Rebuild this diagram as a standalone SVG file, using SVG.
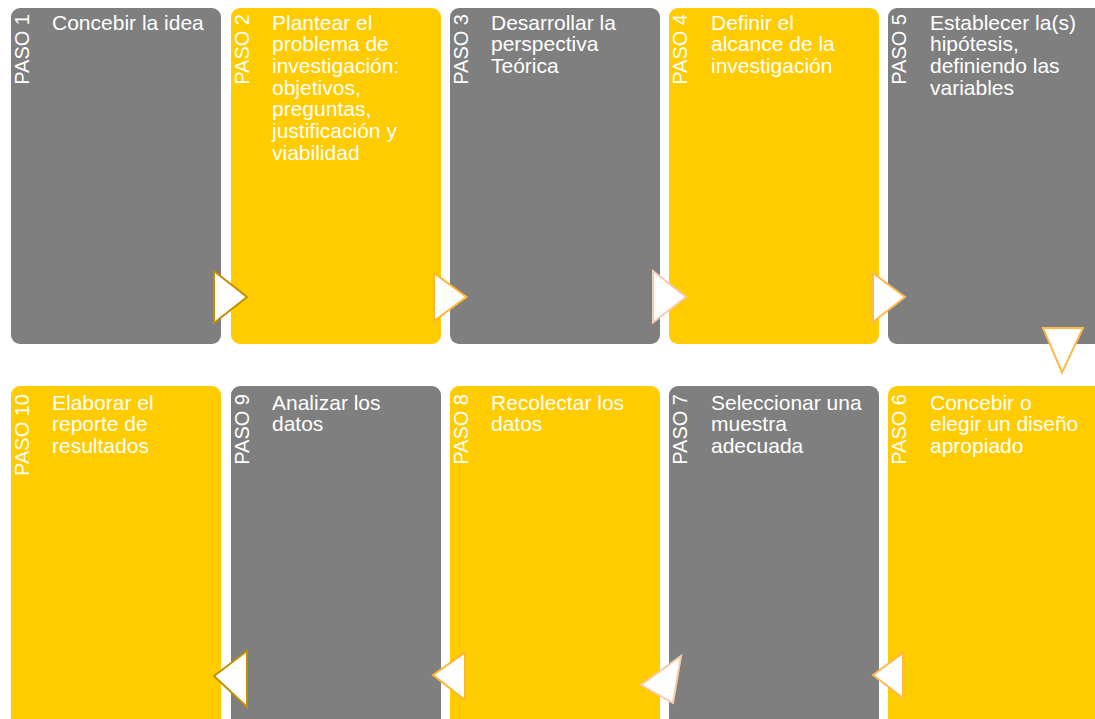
<svg xmlns="http://www.w3.org/2000/svg" width="1095" height="719" viewBox="0 0 1095 719">
<defs>
<style>
.g{fill:#7F7F7F}
.y{fill:#FFCC00}
.lbl{font-family:"Liberation Sans",Arial,sans-serif;font-size:21px;fill:#FFFFFF}
.paso{font-family:"Liberation Sans",Arial,sans-serif;font-size:20px;fill:#FFFFFF}
.arr{fill:#FFFFFF;stroke-width:2;stroke-linejoin:miter}
</style>
</defs>
<rect width="1095" height="719" fill="#FFFFFF"/>
<g id="paso1"><rect class="g" x="11" y="8" width="210" height="336" rx="9"/><text class="paso" transform="translate(29,14) rotate(-90)" text-anchor="end">PASO 1</text><text class="lbl" x="52" y="29.5">Concebir la idea</text></g>
<g id="paso2"><rect class="y" x="231" y="8" width="210" height="336" rx="9"/><text class="paso" transform="translate(249,14) rotate(-90)" text-anchor="end">PASO 2</text><text class="lbl" y="29.5"><tspan x="272">Plantear el</tspan><tspan x="272" dy="21.7">problema de</tspan><tspan x="272" dy="21.7">investigación:</tspan><tspan x="272" dy="21.7">objetivos,</tspan><tspan x="272" dy="21.7">preguntas,</tspan><tspan x="272" dy="21.7">justificación y</tspan><tspan x="272" dy="21.7">viabilidad</tspan></text></g>
<g id="paso3"><rect class="g" x="450" y="8" width="210" height="336" rx="9"/><text class="paso" transform="translate(468,14) rotate(-90)" text-anchor="end">PASO 3</text><text class="lbl" y="29.5"><tspan x="491">Desarrollar la</tspan><tspan x="491" dy="21.7">perspectiva</tspan><tspan x="491" dy="21.7">Teórica</tspan></text></g>
<g id="paso4"><rect class="y" x="669" y="8" width="210" height="336" rx="9"/><text class="paso" transform="translate(687,14) rotate(-90)" text-anchor="end">PASO 4</text><text class="lbl" y="29.5"><tspan x="711">Definir el</tspan><tspan x="711" dy="21.7">alcance de la</tspan><tspan x="711" dy="21.7">investigación</tspan></text></g>
<g id="paso5"><rect class="g" x="888" y="8" width="215" height="336" rx="9"/><text class="paso" transform="translate(906,14) rotate(-90)" text-anchor="end">PASO 5</text><text class="lbl" y="29.5"><tspan x="930">Establecer la(s)</tspan><tspan x="930" dy="21.7">hipótesis,</tspan><tspan x="930" dy="21.7">definiendo las</tspan><tspan x="930" dy="21.7">variables</tspan></text></g>
<g id="paso6"><rect class="y" x="888" y="386" width="215" height="345" rx="9"/><text class="paso" transform="translate(906,394) rotate(-90)" text-anchor="end">PASO 6</text><text class="lbl" y="409.5"><tspan x="930">Concebir o</tspan><tspan x="930" dy="21.7">elegir un diseño</tspan><tspan x="930" dy="21.7">apropiado</tspan></text></g>
<g id="paso7"><rect class="g" x="669" y="386" width="210" height="345" rx="9"/><text class="paso" transform="translate(687,394) rotate(-90)" text-anchor="end">PASO 7</text><text class="lbl" y="409.5"><tspan x="711">Seleccionar una</tspan><tspan x="711" dy="21.7">muestra</tspan><tspan x="711" dy="21.7">adecuada</tspan></text></g>
<g id="paso8"><rect class="y" x="450" y="386" width="210" height="345" rx="9"/><text class="paso" transform="translate(468,394) rotate(-90)" text-anchor="end">PASO 8</text><text class="lbl" y="409.5"><tspan x="491">Recolectar los</tspan><tspan x="491" dy="21.7">datos</tspan></text></g>
<g id="paso9"><rect class="g" x="231" y="386" width="210" height="345" rx="9"/><text class="paso" transform="translate(249,394) rotate(-90)" text-anchor="end">PASO 9</text><text class="lbl" y="409.5"><tspan x="272">Analizar  los</tspan><tspan x="272" dy="21.7">datos</tspan></text></g>
<g id="paso10"><rect class="y" x="11" y="386" width="210" height="345" rx="9"/><text class="paso" transform="translate(29,394) rotate(-90)" text-anchor="end">PASO 10</text><text class="lbl" y="409.5"><tspan x="52">Elaborar el</tspan><tspan x="52" dy="21.7">reporte de</tspan><tspan x="52" dy="21.7">resultados</tspan></text></g>
<g id="connectors">
<polygon class="arr" stroke="#BF9000" points="214,271 214,323 247,297"/>
<polygon class="arr" stroke="#FFB531" points="434,273 434,321 466.5,297"/>
<polygon class="arr" stroke="#F8CBAD" points="653,271 653,322.5 686,297"/>
<polygon class="arr" stroke="#FFB84D" points="873,273 873,322 905,297"/>
<polygon class="arr" stroke="#FFB84D" points="1043,328 1083,328 1062,372.5"/>
<polygon class="arr" stroke="#BF9000" points="247,651 247,707 214,676"/>
<polygon class="arr" stroke="#FFB531" points="465,652.5 465,700 433,675"/>
<polygon class="arr" stroke="#F8CBAD" points="681,656 673,703 641,685"/>
<polygon class="arr" stroke="#FFB84D" points="903,653 903,698 873,675"/>
</g>
</svg>
